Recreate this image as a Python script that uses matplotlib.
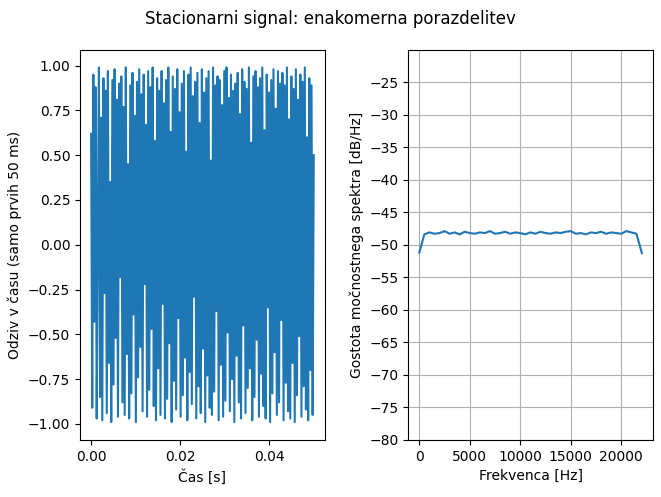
import matplotlib
matplotlib.use("Agg")
import matplotlib.pyplot as plt
import numpy as np

# time-domain samples (first 50 ms), estimated amplitudes
signal_vals = [0.62, -0.91, 0.95, -0.43, 0.88, -0.97, 0.12, 0.99, -0.85, 0.71,
 -0.98, 0.93, -0.27, 0.86, -0.94, 0.97, -0.66, 0.35, -0.99, 0.92,
 -0.78, 0.98, -0.52, 0.81, -0.96, 0.90, -0.18, 0.94, -0.88, 0.77,
 -0.95, 0.99, -0.61, 0.45, -0.97, 0.89, -0.83, 0.96, -0.39, 0.72,
 -0.99, 0.91, -0.74, 0.98, -0.57, 0.84, -0.93, 0.95, -0.22, 0.67,
 -0.96, 0.97, -0.81, 0.88, -0.47, 0.99, -0.90, 0.58, -0.98, 0.93,
 -0.69, 0.86, -0.95, 0.97, -0.33, 0.79, -0.97, 0.92, -0.86, 0.99,
 -0.55, 0.63, -0.99, 0.94, -0.76, 0.87, -0.92, 0.98, -0.41, 0.74,
 -0.96, 0.90, -0.84, 0.97, -0.63, 0.52, -0.98, 0.95, -0.71, 0.99,
 -0.89, 0.83, -0.29, 0.91, -0.97, 0.96, -0.79, 0.68, -0.94, 0.98,
 -0.58, 0.85, -0.99, 0.93, -0.73, 0.97, -0.91, 0.47, -0.95, 0.99,
 -0.82, 0.89, -0.37, 0.94, -0.98, 0.92, -0.67, 0.78, -0.96, 0.97,
 -0.87, 0.99, -0.49, 0.82, -0.93, 0.95, -0.75, 0.86, -0.99, 0.90,
 -0.62, 0.96, -0.88, 0.73, -0.97, 0.98, -0.45, 0.91, -0.94, 0.87,
 -0.80, 0.99, -0.69, 0.57, -0.98, 0.94, -0.85, 0.97, -0.53, 0.88,
 -0.96, 0.93, -0.72, 0.99, -0.90, 0.64, -0.97, 0.95, -0.35, 0.85,
 -0.99, 0.92, -0.83, 0.98, -0.60, 0.76, -0.95, 0.97, -0.88, 0.90,
 -0.42, 0.96, -0.98, 0.89, -0.77, 0.99, -0.93, 0.70, -0.97, 0.94,
 -0.66, 0.87, -0.99, 0.98, -0.84, 0.81, -0.51, 0.95, -0.96, 0.91,
 -0.79, 0.99, -0.92, 0.60, -0.98, 0.93, -0.70, 0.89, -0.95, 0.50]

# Welch PSD estimate (dB/Hz)
freq_vals = [0, 500, 1000, 1500, 2000, 2500, 3000, 3500, 4000, 4500, 5000,
 5500, 6000, 6500, 7000, 7500, 8000, 8500, 9000, 9500, 10000, 10500,
 11000, 11500, 12000, 12500, 13000, 13500, 14000, 14500, 15000, 15500,
 16000, 16500, 17000, 17500, 18000, 18500, 19000, 19500, 20000, 20500,
 21000, 21500, 22050]
psd_vals = [-51.2, -48.4, -48.1, -48.3, -48.2, -47.9, -48.3, -48.1, -48.4,
 -48.0, -48.2, -48.3, -48.1, -48.2, -47.9, -48.3, -48.2, -48.0, -48.3,
 -48.1, -48.2, -48.4, -48.1, -48.3, -48.0, -48.2, -48.3, -48.1, -48.2,
 -48.0, -47.9, -48.3, -48.2, -48.4, -48.1, -48.2, -48.0, -48.3, -48.1,
 -48.2, -48.3, -47.9, -48.1, -48.3, -51.3]

fig, (ax1, ax2) = plt.subplots(1, 2, figsize=(6.61, 4.97), dpi=100)
fig.suptitle("Stacionarni signal: enakomerna porazdelitev")

t = np.linspace(0, 0.05, len(signal_vals))
ax1.plot(t, signal_vals)
ax1.set_xticks([0.0, 0.02, 0.04])
ax1.set_xlabel("Čas [s]")
ax1.set_ylabel("Odziv v času (samo prvih 50 ms)")

ax2.plot(freq_vals, psd_vals)
ax2.set_ylim(-80, -20)
ax2.set_yticks(np.arange(-80, -24, 5))
ax2.grid(True)
ax2.set_xlabel("Frekvenca [Hz]")
ax2.set_ylabel("Gostota močnostnega spektra [dB/Hz]")

fig.subplots_adjust(left=0.121, right=0.988, bottom=0.115, top=0.9, wspace=0.34)
fig.savefig("out.png")
